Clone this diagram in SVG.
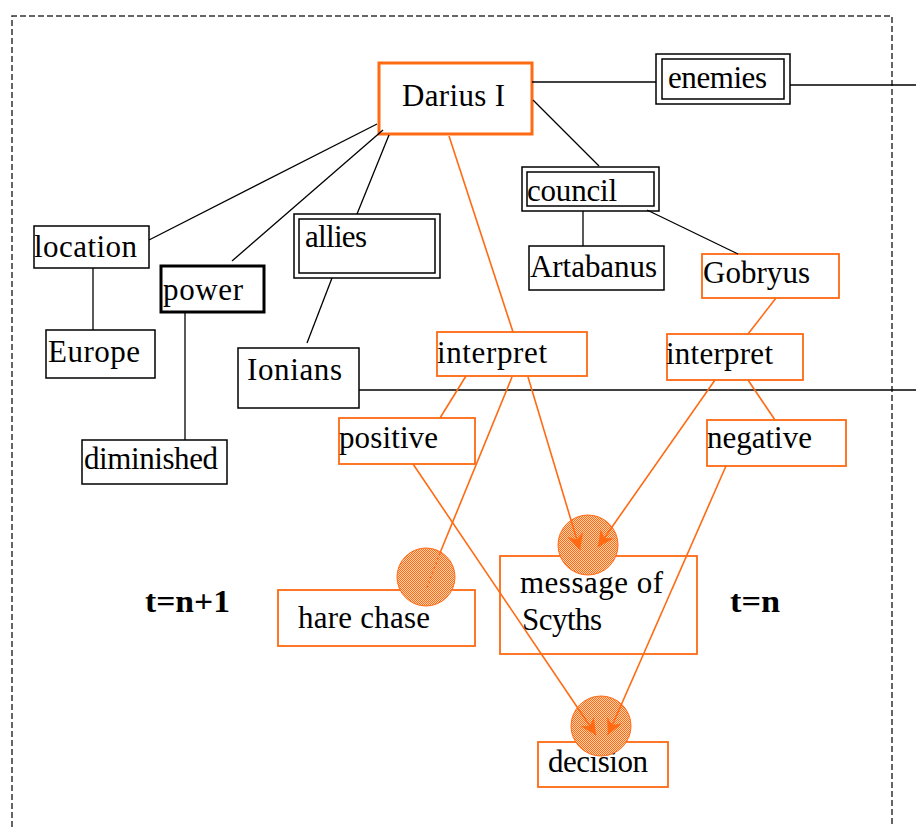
<svg xmlns="http://www.w3.org/2000/svg" width="916" height="827" viewBox="0 0 916 827">
  <style>
    .box { fill: #fff; stroke: #000; stroke-width: 1.5; }
    .obox { fill: #fff; stroke: #ff6a13; stroke-width: 1.8; }
    .dbl { fill: none; stroke: #000; stroke-width: 1.5; }
    .lbl { font-family: "Liberation Serif", "Times New Roman", serif; font-size: 31px; fill: #000; }
    .time { font-family: "Liberation Serif", "Times New Roman", serif; font-size: 32px; font-weight: bold; fill: #000; }
    .blk { stroke: #000; stroke-width: 1.3; fill: none; }
    .org { stroke: #ff6a13; stroke-width: 1.6; fill: none; }
    .hatch { fill: url(#checker); stroke: #ff6a13; stroke-width: 1; }
  </style>
  <defs>
    <pattern id="checker" width="2" height="2" patternUnits="userSpaceOnUse">
      <rect width="2" height="2" fill="#ffd2b0"/>
      <rect width="1" height="1" fill="#ff6a13"/>
      <rect x="1" y="1" width="1" height="1" fill="#ff6a13"/>
    </pattern>
    <marker id="arrow" markerUnits="userSpaceOnUse" markerWidth="18" markerHeight="16" refX="16" refY="8" orient="auto">
      <path d="M0,0 L16,8 L0,16 L5,8 z" fill="#ff6a13"/>
    </marker>
  </defs>

  <rect width="916" height="827" fill="#fff"/>

  <!-- frame -->
  <path d="M12,827 V16 H892 V827" fill="none" stroke="#333" stroke-width="1.5" stroke-dasharray="6 3"/>

  <!-- time labels -->
  <text class="time" x="145" y="612" textLength="85" lengthAdjust="spacingAndGlyphs">t=n+1</text>
  <text class="time" x="730" y="612" textLength="50" lengthAdjust="spacingAndGlyphs">t=n</text>

  <!-- nodes -->
  <g id="darius">
    <rect x="379" y="63" width="153" height="71" fill="#fff" stroke="#ff6a13" stroke-width="3"/>
    <text class="lbl" x="402" y="106" textLength="103">Darius I</text>
  </g>
  <g id="enemies">
    <rect class="dbl" x="656" y="54" width="134" height="50"/>
    <rect class="dbl" x="662" y="59" width="122" height="40"/>
    <text class="lbl" x="668" y="88" textLength="99">enemies</text>
  </g>
  <g id="council">
    <rect class="dbl" x="522" y="167" width="137" height="44"/>
    <rect class="dbl" x="527" y="172" width="127" height="34"/>
    <text class="lbl" x="527" y="201" textLength="90">council</text>
  </g>
  <g id="artabanus">
    <rect class="box" x="529" y="246" width="135" height="44"/>
    <text class="lbl" x="530" y="277" textLength="127">Artabanus</text>
  </g>
  <g id="gobryus">
    <rect class="obox" x="702" y="254" width="137" height="44"/>
    <text class="lbl" x="703" y="283" textLength="107">Gobryus</text>
  </g>
  <g id="location">
    <rect class="box" x="34" y="226" width="115" height="42"/>
    <text class="lbl" x="34" y="257" textLength="103">location</text>
  </g>
  <g id="europe">
    <rect class="box" x="46" y="330" width="109" height="48"/>
    <text class="lbl" x="48" y="362" textLength="92">Europe</text>
  </g>
  <g id="power">
    <rect x="161" y="266" width="103" height="46" fill="#fff" stroke="#000" stroke-width="3"/>
    <text class="lbl" x="163" y="300" textLength="80">power</text>
  </g>
  <g id="diminished">
    <rect class="box" x="82" y="440" width="145" height="44"/>
    <text class="lbl" x="84" y="469" textLength="134">diminished</text>
  </g>
  <g id="allies">
    <rect class="dbl" x="294" y="214" width="146" height="64"/>
    <rect class="dbl" x="299" y="219" width="136" height="54"/>
    <text class="lbl" x="305" y="247" textLength="62">allies</text>
  </g>
  <g id="ionians">
    <rect class="box" x="238" y="348" width="121" height="60"/>
    <text class="lbl" x="247" y="380" textLength="95">Ionians</text>
  </g>
  <g id="interpret-1">
    <rect class="obox" x="437" y="332" width="150" height="44"/>
    <text class="lbl" x="437" y="363" textLength="110">interpret</text>
  </g>
  <g id="interpret-2">
    <rect class="obox" x="667" y="334" width="136" height="46"/>
    <text class="lbl" x="666" y="364" textLength="107">interpret</text>
  </g>
  <g id="positive">
    <rect class="obox" x="339" y="418" width="136" height="46"/>
    <text class="lbl" x="339" y="448" textLength="99">positive</text>
  </g>
  <g id="negative">
    <rect class="obox" x="707" y="420" width="139" height="46"/>
    <text class="lbl" x="707" y="448" textLength="105">negative</text>
  </g>
  <g id="hare-chase">
    <rect class="obox" x="278" y="590" width="197" height="56"/>
    <text class="lbl" x="298" y="628" textLength="132">hare chase</text>
  </g>
  <g id="message">
    <rect class="obox" x="500" y="556" width="197" height="98"/>
    <text class="lbl" x="520" y="593" textLength="143">message of</text>
    <text class="lbl" x="522" y="630" textLength="80">Scyths</text>
  </g>
  <g id="decision">
    <rect class="obox" x="538" y="742" width="130" height="45"/>
    <text class="lbl" x="548" y="772" textLength="100">decision</text>
  </g>

  <!-- event markers on the outcome nodes -->
  <g id="markers">
    <circle class="hatch" cx="426" cy="577" r="29"/>
    <circle class="hatch" cx="588" cy="545" r="30"/>
    <circle class="hatch" cx="601" cy="726" r="30"/>
  </g>

  <!-- connectors -->
  <g id="connectors">
    <path class="blk" d="M532,82 H656"/>
    <path class="blk" d="M790,85 H916"/>
    <path class="blk" d="M533,100 L599,166"/>
    <path class="blk" d="M583,211 V246"/>
    <path class="blk" d="M647,210 L738,254"/>
    <path class="blk" d="M377,124 L149,240"/>
    <path class="blk" d="M93,268 V330"/>
    <path class="blk" d="M383,130 L232,261"/>
    <path class="blk" d="M185,313 V440"/>
    <path class="blk" d="M389,135 L357,214"/>
    <path class="blk" d="M332,278 L307,343"/>
    <path class="blk" d="M359,390 H916"/>

    <path class="org" d="M449,136 L513,332"/>
    <path class="org" d="M776,298 L748,334"/>
    <path class="org" d="M466,376 L440,418"/>
    <path class="org" d="M748,380 L775,420"/>
    <path class="org" d="M512,377 L440,553"/>
    <path class="org" d="M440,553 L426,590" stroke-dasharray="2 3"/>
    <path class="org" d="M528,377 L580,550" marker-end="url(#arrow)"/>
    <path class="org" d="M715,380 L598,547" marker-end="url(#arrow)"/>
    <path class="org" d="M413,464 L596,735" marker-end="url(#arrow)"/>
    <path class="org" d="M726,466 L608,735" marker-end="url(#arrow)"/>
  </g>
</svg>
